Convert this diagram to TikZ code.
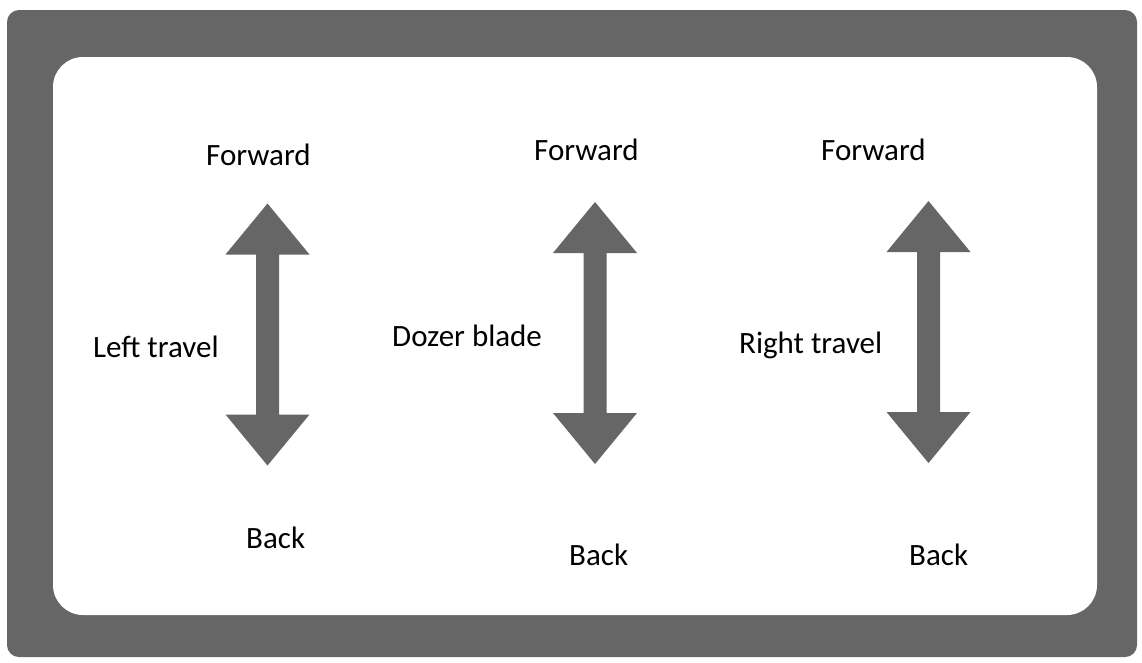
\documentclass[tikz,border=0pt]{standalone}
\usepackage{fontspec}
\setmainfont{Carlito}
\definecolor{framegray}{RGB}{102,102,102}
\tikzset{
  lbl/.style={anchor=base west, inner sep=0pt, font=\fontsize{31}{37}\selectfont, text=black},
  dblarrow/.pic={
    \fill[framegray] (0,-131) -- (42,-80) -- (11.5,-80) -- (11.5,80) -- (42,80)
      -- (0,131) -- (-42,80) -- (-11.5,80) -- (-11.5,-80) -- (-42,-80) -- cycle;
  }
}
\begin{document}
\begin{tikzpicture}[x=1pt,y=-1pt]
\useasboundingbox (0,0) rectangle (1142,662);
\fill[white] (0,0) rectangle (1142,662);
\fill[framegray, rounded corners=12pt] (7,10) rectangle (1137,657);
\fill[white, rounded corners=30pt] (53,57) rectangle (1097,615);
\pic (a1) at (267.5,334.5) {dblarrow};
\pic (a2) at (595,333) {dblarrow};
\pic (a3) at (928.5,332) {dblarrow};
\node[lbl] (f1) at (206,165) {Forward};
\node[lbl] (f2) at (534,160) {Forward};
\node[lbl] (f3) at (821,160) {Forward};
\node[lbl] (l1) at (93,357) {Left travel};
\node[lbl] (l2) at (392,346) {Dozer blade};
\node[lbl] (l3) at (739,353) {Right travel};
\node[lbl] (b1) at (246,548) {Back};
\node[lbl] (b2) at (569,565) {Back};
\node[lbl] (b3) at (909,565) {Back};
\end{tikzpicture}
\end{document}
